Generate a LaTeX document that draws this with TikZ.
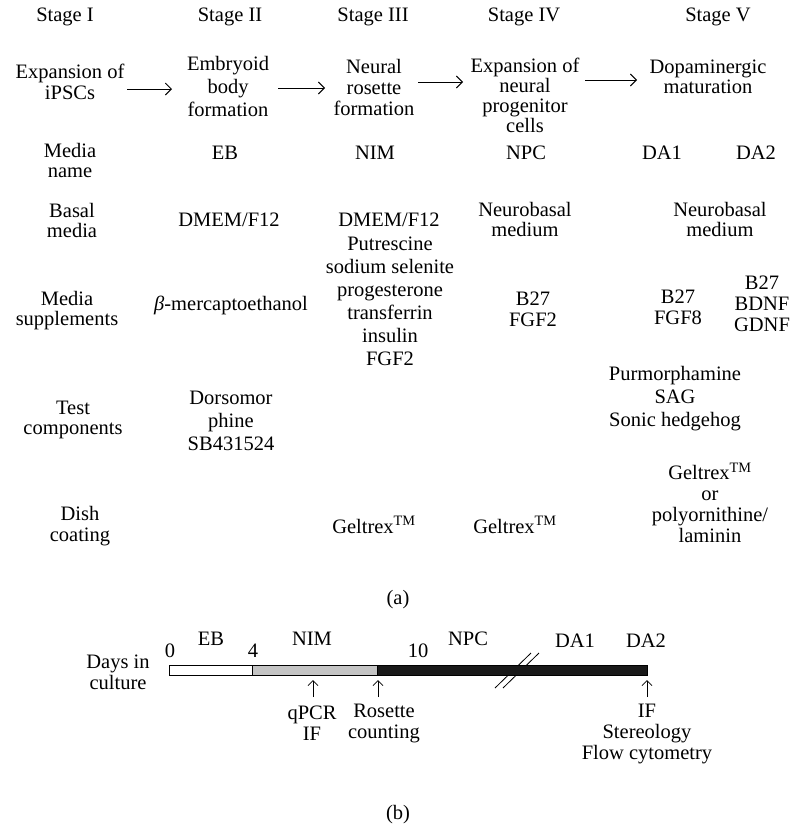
\documentclass[tikz,border=0pt]{standalone}
\usepackage{fontspec}
\setmainfont{Liberation Serif}
\usetikzlibrary{arrows.meta}
\newcommand{\fsz}[2]{\fontsize{#1}{#2}\selectfont}
\begin{document}
\begin{tikzpicture}[x=1pt,y=-1pt,
  every node/.style={inner sep=0pt, outer sep=0pt, align=center, font=\fsz{20.5}{21}},
  tight/.style={font=\fsz{20.5}{20}},
  loose/.style={font=\fsz{20.5}{23}},
  arr/.style={-{Straight Barb[length=6pt,width=12pt]}, line width=0.9pt},
  uparr/.style={-{Straight Barb[length=5pt,width=10pt]}, line width=0.8pt},
  barbox/.style={draw=black, line width=0.7pt},
]
\useasboundingbox (0,0) rectangle (795,830);

% ---------- (a) ----------
\node (st1) at (65,17)  {Stage I};
\node (st2) at (230,17) {Stage II};
\node (st3) at (373,17) {Stage III};
\node (st4) at (524,17) {Stage IV};
\node (st5) at (718,17) {Stage V};

\node (p1) at (70,82) {Expansion of\\iPSCs};
\node[loose] (p2) at (228,86) {Embryoid\\body\\formation};
\node (p3) at (374,87) {Neural\\rosette\\formation};
\node[tight] (p4) at (525,95) {Expansion of\\neural\\progenitor\\cells};
\node[tight] (p5) at (708,77) {Dopaminergic\\maturation};

\coordinate (p1o) at (127,89);  \coordinate (p2i) at (172,89);
\coordinate (p2o) at (278,88);  \coordinate (p3i) at (325,88);
\coordinate (p3o) at (418,82);  \coordinate (p4i) at (463,82);
\coordinate (p4o) at (585,80);  \coordinate (p5i) at (637,80);
\draw[arr] (p1o) -- (p2i);
\draw[arr] (p2o) -- (p3i);
\draw[arr] (p3o) -- (p4i);
\draw[arr] (p4o) -- (p5i);

\node[tight] (rn) at (70,160) {Media\\name};
\node (eb)  at (225,153) {EB};
\node (nim) at (375,153) {NIM};
\node (npc) at (526,153) {NPC};
\node (da1) at (662,153) {DA1};
\node (da2) at (756,153) {DA2};

\node[tight] (rb) at (72,220) {Basal\\media};
\node (b1) at (229,220) {DMEM/F12};
\node (b2) at (389,220) {DMEM/F12};
\node[tight] (b3) at (525,219) {Neurobasal\\medium};
\node[tight] (b4) at (720,219) {Neurobasal\\medium};

\node[tight] (rs) at (67,311) {Media\\supplements};
\node (s1) at (231,305) {\textit{β}-mercaptoethanol};
\node[loose] (s2) at (390,301) {Putrescine\\sodium selenite\\progesterone\\transferrin\\insulin\\FGF2};
\node (s3) at (533,309) {B27\\FGF2};
\node (s4) at (678,307) {B27\\FGF8};
\node (s5) at (762,304) {B27\\BDNF\\GDNF};

\node[tight] (rt) at (73,420) {Test\\components};
\node[loose] (t1) at (231,421) {Dorsomor\\phine\\SB431524};
\node[loose] (t2) at (675,399) {Purmorphamine\\SAG\\Sonic hedgehog};

\node (rd) at (80,526) {Dish\\coating};
\node (d1) at (374,525) {Geltrex\textsuperscript{TM}};
\node (d2) at (515,525) {Geltrex\textsuperscript{TM}};
\node (d3) at (710,503) {Geltrex\textsuperscript{TM}\\or\\polyornithine/\\laminin};

\node (capa) at (398,600) {(a)};

% ---------- (b) ----------
\node (days) at (118,672) {Days in\\culture};

\coordinate (x0) at (169,665);
\coordinate (x4) at (252,675);
\coordinate (x4t) at (252,665);
\coordinate (x10) at (377,675);
\coordinate (x10t) at (377,665);
\coordinate (xe) at (647,675);

\coordinate (k1a) at (495,688); \coordinate (k1b) at (531,653);
\coordinate (k2a) at (503,688); \coordinate (k2b) at (539,653);
\draw[line width=0.8pt] (k1a) -- (k1b);
\draw[line width=0.8pt] (k2a) -- (k2b);
\draw[barbox, fill=white] (x0) rectangle (x4);
\draw[barbox, fill=black!23] (x4t) rectangle (x10);
\draw[barbox, fill=black!90] (x10t) rectangle (xe);

\node (n0)  at (170,651) {0};
\node (n4)  at (253,651) {4};
\node (n10) at (418,651) {10};
\node (lEB)  at (211,639) {EB};
\node (lNIM) at (312,639) {NIM};
\node (lNPC) at (468,639) {NPC};
\node (lDA1) at (575,641) {DA1};
\node (lDA2) at (646,641) {DA2};

\coordinate (m1) at (313,680);
\coordinate (m2) at (378,680);
\coordinate (m3) at (647,680);
\node (q) at (312,723) {qPCR\\IF};
\node (r) at (384,723) {Rosette\\counting};
\node (f) at (647,734) {IF\\Stereology\\Flow cytometry};
\draw[uparr] (m1 |- 0,697) -- (m1);
\draw[uparr] (m2 |- 0,697) -- (m2);
\draw[uparr] (m3 |- 0,697) -- (m3);

\node (capb) at (398,815) {(b)};
\end{tikzpicture}
\end{document}
